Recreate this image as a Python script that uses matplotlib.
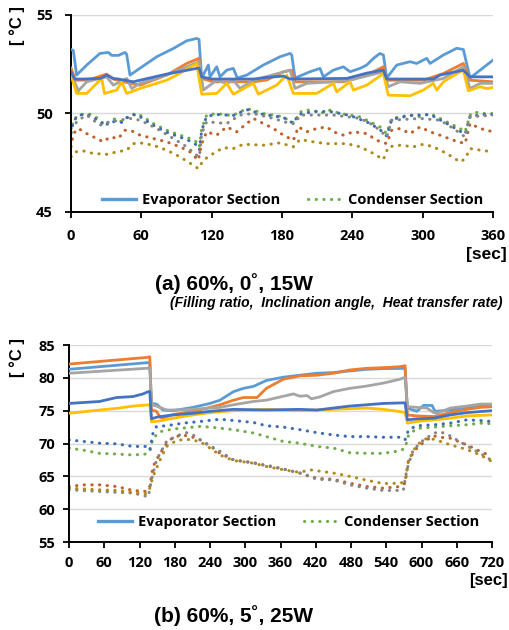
import matplotlib
matplotlib.use("Agg")
import matplotlib.pyplot as plt
from matplotlib.lines import Line2D

W, H = 509, 630
DPI = 100

# ---------------- Data: panel (a) 60%, 0 deg, 15W ----------------
a_evap1_t = [0, 2, 4.8, 13.4, 24.7, 31.9, 34.7, 40.4, 46.1, 47.5, 50.3, 58.9, 73.1, 87.3, 98.7, 107.2, 109.2, 111.5, 117.2, 118.6, 124.3, 127.1, 132.8, 138.5, 141.9, 149.9, 164.1, 178.3, 186.9, 188.3, 191.1, 203.9, 212.4, 215.3, 223.8, 232.4, 238, 246.6, 252.3, 258, 263.6, 266.5, 269.3, 277.9, 289.2, 294.9, 303.5, 306.3, 317.7, 329, 334.7, 340.4, 349, 360]
a_evap1_v = [53.25, 53.2, 51.95, 52.46, 53.05, 53.1, 52.95, 52.95, 53.1, 53.0, 51.95, 52.3, 52.88, 53.3, 53.69, 53.81, 53.76, 51.8, 52.46, 51.86, 52.37, 51.86, 52.2, 52.29, 51.8, 51.95, 52.46, 52.88, 53.05, 52.97, 51.8, 52.12, 52.29, 51.86, 52.2, 52.37, 52.12, 52.29, 52.46, 52.8, 53.05, 52.97, 51.8, 52.46, 52.63, 52.54, 52.8, 52.54, 52.97, 53.31, 53.25, 51.8, 52.2, 52.71]

a_evap2_t = [0, 4, 15, 30.4, 36, 44.7, 58.9, 81.6, 98.7, 109.2, 111.5, 121.4, 155.6, 166.9, 181.2, 188.3, 191.1, 232.4, 252.3, 266.5, 269.3, 300.6, 317.7, 334.7, 340.4, 360]
a_evap2_v = [52.3, 51.69, 51.7, 52.0, 51.75, 51.61, 51.44, 51.95, 52.54, 52.8, 51.78, 51.61, 51.61, 51.7, 52.12, 52.2, 51.61, 51.61, 51.95, 52.37, 51.69, 51.69, 52.03, 52.54, 51.69, 51.61]

a_evap3_t = [0, 6.3, 13.4, 30.4, 36.1, 47.5, 51.8, 58.9, 81.6, 98.7, 109.2, 112.9, 124.3, 132.8, 138.5, 144.2, 155.6, 186.9, 191.1, 201.1, 223.8, 238, 266.5, 270.7, 280.7, 297.8, 317.7, 334.7, 340.4, 349, 360]
a_evap3_v = [52.03, 51.15, 51.61, 51.86, 51.44, 51.78, 51.27, 51.53, 51.95, 52.37, 52.63, 51.19, 51.69, 51.53, 51.69, 51.27, 51.69, 52.2, 51.27, 51.53, 51.61, 51.69, 52.12, 51.36, 51.61, 51.53, 51.78, 52.37, 51.27, 51.53, 51.53]

a_evap4_t = [0, 4.8, 13.4, 26.2, 28.5, 39, 43.2, 47.5, 58.9, 73.1, 81.6, 90.2, 107.2, 111.5, 124.3, 132.8, 138.5, 155.6, 159.8, 175.5, 184, 189.7, 209.6, 223.8, 226.7, 238, 240.9, 252.3, 266.5, 270.7, 289.2, 300.6, 309.1, 312, 317.7, 331.9, 334.7, 339, 349, 354.6, 360]
a_evap4_v = [51.95, 51.02, 51.02, 51.78, 51.02, 51.19, 51.61, 51.02, 51.27, 51.53, 51.69, 51.95, 52.54, 50.98, 51.02, 51.53, 50.98, 51.53, 50.98, 51.44, 51.95, 51.02, 51.02, 51.53, 51.1, 51.61, 51.19, 51.44, 52.03, 50.93, 50.9, 51.19, 51.53, 51.19, 51.61, 52.12, 52.2, 51.15, 51.36, 51.27, 51.32]

a_evap5_t = [0, 3, 10, 25, 30.4, 36, 40.4, 53.2, 58.9, 81.6, 107.2, 109.5, 111.5, 120, 155.6, 166.9, 181.2, 186.9, 235.2, 252.3, 266.5, 269.3, 309.1, 314.8, 334.7, 340.4, 360]
a_evap5_v = [52.1, 51.75, 51.75, 51.78, 51.95, 51.78, 51.75, 51.61, 51.69, 52.0, 52.29, 52.29, 51.86, 51.75, 51.75, 51.83, 51.9, 51.75, 51.78, 52.05, 52.2, 51.75, 51.75, 51.95, 52.2, 51.86, 51.86]

a_cond1_t = [0, 2, 6.3, 13.4, 19, 24.7, 29, 33.3, 39, 43.2, 50.3, 56, 61.7, 70.2, 81.6, 93, 101.5, 107.2, 109.5, 111.5, 115.7, 124.3, 132.8, 138.5, 144.2, 149.9, 155.6, 164.1, 172.6, 181.2, 186.9, 191.1, 194, 198.2, 206.8, 212.4, 221, 229.5, 238, 246.6, 255.1, 263.6, 266.5, 269.3, 273.6, 280.7, 289.2, 297.8, 306.3, 314.8, 323.4, 331.9, 336.2, 340.4, 343.3, 351.8, 360]
a_cond1_v = [49.07, 49.66, 49.92, 50.0, 49.92, 49.66, 49.41, 49.66, 49.75, 49.58, 49.92, 50.0, 49.83, 49.49, 49.15, 48.9, 48.73, 48.56, 48.31, 49.24, 49.92, 50.0, 49.92, 49.92, 50.08, 50.25, 50.17, 50.0, 49.92, 49.83, 49.58, 49.53, 50.0, 50.17, 50.17, 50.0, 50.17, 50.0, 49.92, 49.83, 49.58, 49.32, 49.15, 48.98, 49.75, 49.83, 49.92, 49.83, 50.0, 49.75, 49.49, 49.24, 49.07, 49.92, 50.08, 50.0, 50.0]

a_cond2_t = [0, 2, 6.3, 13.4, 24.7, 29, 33.3, 43.2, 50.3, 56, 70.2, 81.6, 93, 101.5, 107.2, 109.5, 111.5, 115.7, 124.3, 138.5, 149.9, 164.1, 181.2, 189.7, 194, 206.8, 221, 238, 255.1, 266.5, 269.3, 273.6, 289.2, 306.3, 323.4, 336.2, 340.4, 351.8, 360]
a_cond2_v = [49.0, 49.6, 49.92, 49.95, 49.6, 49.35, 49.6, 49.55, 49.9, 49.95, 49.4, 49.05, 48.8, 48.6, 48.4, 48.15, 49.15, 49.85, 49.95, 49.9, 50.2, 49.95, 49.8, 49.5, 49.95, 50.1, 50.1, 49.9, 49.5, 49.05, 48.85, 49.7, 49.9, 49.95, 49.4, 48.95, 49.85, 49.95, 49.95]

a_cond3_t = [0, 2, 6.3, 13.4, 21.9, 27.6, 33.3, 40.4, 46.1, 51.8, 58.9, 70.2, 81.6, 93, 101.5, 108.6, 111.5, 115.7, 124.3, 132.8, 141.3, 149.9, 155.6, 164.1, 172.6, 181.2, 189.7, 194, 201.1, 209.6, 218.1, 223.8, 232.4, 240.9, 252.3, 260.8, 269.3, 273.6, 280.7, 289.2, 297.8, 306.3, 314.8, 326.2, 336.2, 340.4, 349, 360]
a_cond3_v = [48.31, 48.98, 49.24, 48.98, 48.73, 48.56, 48.81, 48.73, 49.15, 49.12, 48.9, 48.73, 48.56, 48.31, 48.05, 47.63, 48.47, 49.07, 48.9, 49.32, 49.07, 49.49, 49.75, 49.49, 49.24, 48.9, 48.64, 49.32, 49.07, 49.24, 49.32, 49.07, 48.9, 49.07, 48.98, 48.64, 48.47, 49.15, 49.24, 48.98, 49.32, 49.07, 48.9, 48.64, 48.47, 49.49, 49.24, 49.07]

a_cond4_t = [0, 6.3, 13.4, 24.7, 33.3, 50.3, 58.9, 73.1, 87.3, 98.7, 107.2, 109.5, 111.5, 115.7, 132.8, 144.2, 155.6, 172.6, 186.9, 191.1, 195.4, 223.8, 246.6, 258, 266.5, 269.3, 273.6, 297.8, 314.8, 326.2, 336.2, 340.4, 360]
a_cond4_v = [49.24, 49.66, 49.92, 49.41, 49.58, 49.75, 49.66, 49.24, 48.73, 48.31, 47.88, 47.8, 48.98, 49.58, 49.49, 49.92, 50.0, 49.75, 49.49, 49.49, 49.92, 49.92, 49.75, 49.41, 48.98, 48.81, 49.66, 49.75, 49.66, 49.24, 48.81, 49.83, 49.92]

a_cond5_t = [0, 3.4, 10.5, 19, 30.4, 39, 47.5, 53.2, 58.9, 70.2, 81.6, 93, 104.4, 108.6, 112.9, 121.4, 130, 138.5, 147, 164.1, 178.3, 189.7, 195.4, 206.8, 218.1, 235.2, 246.6, 258, 266.5, 270.7, 280.7, 292.1, 300.6, 309.1, 320.5, 331.9, 336.2, 340.4, 349, 360]
a_cond5_v = [47.8, 48.05, 48.1, 47.97, 47.93, 48.05, 48.14, 48.47, 48.51, 48.39, 48.14, 47.8, 47.37, 47.2, 47.63, 47.97, 48.27, 48.22, 48.44, 48.39, 48.51, 48.31, 48.68, 48.56, 48.47, 48.47, 48.31, 47.97, 47.66, 48.31, 48.39, 48.31, 48.44, 48.31, 47.97, 47.54, 47.7, 48.22, 48.14, 48.05]

# ---------------- Data: panel (b) 60%, 5 deg, 25W ----------------
b_evap1_t = [0, 132, 137.5, 140.4, 149, 155, 160, 177, 211, 240, 257, 280, 297, 314, 336, 365, 393, 422, 450, 478, 507, 535, 572, 576, 592, 603.5, 618, 623, 649, 677, 720]
b_evap1_v = [81.3, 82.3, 82.3, 76.1, 76.0, 75.5, 75.1, 75.0, 75.5, 76.1, 76.6, 77.9, 78.4, 78.7, 79.6, 80.1, 80.4, 80.7, 80.8, 81.05, 81.3, 81.4, 81.45, 75.4, 74.9, 75.8, 75.8, 74.9, 75.1, 75.5, 75.9]

b_evap2_t = [0, 132, 137.5, 140.4, 149, 155, 160, 177, 211, 240, 257, 280, 297, 320, 336, 365, 393, 422, 450, 478, 507, 535, 564, 572, 576, 592, 621, 649, 677, 700, 720]
b_evap2_v = [82.1, 83.1, 83.2, 75.1, 74.9, 74.0, 73.9, 74.4, 74.9, 75.5, 75.9, 76.6, 77.0, 77.0, 78.4, 79.8, 80.3, 80.4, 80.7, 81.2, 81.45, 81.55, 81.7, 81.85, 74.35, 74.2, 74.1, 74.7, 75.2, 75.5, 75.6]

b_evap3_t = [0, 132, 137.5, 140.4, 149, 166, 177, 211, 240, 257, 280, 314, 336, 365, 382, 393, 405, 413, 427, 450, 478, 507, 535, 564, 572, 576, 592, 609, 621, 626, 649, 677, 700, 720]
b_evap3_v = [80.7, 81.45, 81.45, 75.9, 75.7, 75.1, 75.1, 75.2, 75.4, 75.5, 75.9, 76.4, 76.6, 77.2, 77.55, 77.2, 77.3, 76.8, 77.1, 77.9, 78.4, 78.75, 79.2, 79.8, 80.1, 75.6, 75.5, 75.4, 74.7, 74.6, 75.4, 75.7, 76.0, 76.0]

b_evap4_t = [0, 52, 81, 109, 137.5, 140.4, 155, 177, 211, 240, 280, 336, 393, 450, 507, 535, 564, 572, 576, 592, 621, 649, 677, 720]
b_evap4_v = [74.6, 75.1, 75.35, 75.7, 75.9, 73.3, 73.45, 73.85, 74.35, 74.7, 75.0, 75.2, 75.0, 75.2, 75.4, 75.2, 74.85, 74.7, 73.1, 73.35, 73.6, 73.85, 74.2, 74.35]

b_evap5_t = [0, 52, 81, 109, 126, 135, 137.5, 140.4, 149, 155, 177, 211, 240, 280, 336, 393, 422, 450, 478, 507, 535, 572, 576, 592, 621, 649, 677, 720]
b_evap5_v = [76.1, 76.4, 77.0, 77.15, 77.55, 77.9, 77.9, 73.75, 74.0, 74.1, 74.35, 74.6, 74.9, 75.2, 75.1, 75.2, 75.1, 75.4, 75.7, 75.9, 76.1, 76.2, 73.6, 73.75, 73.85, 74.35, 74.7, 75.0]

b_cond1_t = [0, 24, 52, 81, 109, 132, 137.5, 143, 155, 177, 223, 240, 280, 314, 336, 365, 393, 422, 450, 478, 507, 535, 564, 572, 578, 592, 621, 649, 677, 700, 720]
b_cond1_v = [69.3, 69.0, 68.5, 68.4, 68.25, 68.4, 68.8, 70.8, 71.8, 72.2, 72.6, 72.5, 72.1, 71.6, 71.05, 70.3, 70.05, 69.55, 69.3, 68.6, 68.5, 68.5, 68.9, 69.3, 71.3, 72.3, 72.5, 72.7, 72.85, 73.1, 73.0]

b_cond2_t = [0, 52, 81, 109, 132, 137.5, 143, 149, 166, 194, 223, 257, 280, 314, 336, 365, 393, 422, 450, 478, 507, 535, 564, 572, 578, 592, 621, 649, 677, 700, 720]
b_cond2_v = [70.55, 70.05, 69.95, 69.55, 69.55, 69.0, 71.6, 72.6, 72.7, 73.1, 73.35, 73.7, 73.5, 73.2, 72.7, 72.5, 72.1, 71.65, 71.3, 71.05, 71.05, 70.95, 70.95, 70.55, 72.1, 72.7, 72.85, 73.1, 73.6, 73.5, 73.35]

b_cond3_t = [0, 24, 52, 81, 109, 132, 137.5, 143, 155, 166, 177, 194, 211, 223, 240, 257, 280, 314, 336, 365, 393, 422, 450, 478, 507, 535, 564, 572, 578, 592, 609, 621, 632, 649, 677, 700, 720]
b_cond3_v = [63.45, 63.7, 63.7, 63.45, 62.85, 62.7, 63.45, 66.5, 68.5, 70.0, 70.95, 71.3, 70.95, 70.55, 69.65, 68.5, 67.5, 67.1, 66.6, 66.1, 65.5, 64.7, 64.55, 63.95, 63.45, 63.2, 63.45, 63.95, 67.5, 69.3, 70.55, 71.15, 70.95, 70.8, 69.8, 68.8, 68.0]

b_cond4_t = [0, 52, 109, 135, 140.4, 149, 166, 183, 200, 211, 234, 257, 280, 314, 348, 393, 422, 450, 478, 507, 535, 569, 575, 586, 603.5, 621, 632, 649, 677, 700, 720]
b_cond4_v = [62.95, 62.7, 62.45, 61.9, 64.5, 67.5, 70.3, 71.15, 71.65, 71.3, 69.95, 68.8, 67.5, 67.0, 66.5, 65.5, 64.55, 64.45, 63.7, 63.2, 62.85, 62.85, 66.0, 69.05, 70.55, 71.57, 71.8, 71.15, 69.65, 68.5, 67.4]

b_cond5_t = [0, 52, 81, 109, 132, 137.5, 143, 155, 166, 183, 200, 223, 240, 257, 280, 314, 336, 365, 393, 410, 450, 478, 507, 535, 564, 572, 578, 592, 609, 621, 649, 677, 700, 720]
b_cond5_v = [63.2, 62.95, 62.85, 62.55, 62.35, 63.2, 65.0, 67.5, 69.55, 70.45, 70.65, 70.3, 69.3, 68.25, 67.4, 67.0, 66.5, 66.0, 65.6, 66.0, 65.5, 65.0, 64.4, 63.9, 63.95, 64.2, 67.5, 69.8, 70.8, 70.65, 69.8, 69.1, 68.25, 67.25]

a_xticks = [0, 60, 120, 180, 240, 300, 360]
a_yticks = [45, 50, 55]
b_xticks = [0, 60, 120, 180, 240, 300, 360, 420, 480, 540, 600, 660, 720]
b_yticks = [55, 60, 65, 70, 75, 80, 85]

legend_labels = ["Evaporator Section", "Condenser Section"]
title_a = "(a) 60%, 0˚, 15W"
subtitle_a = "(Filling ratio,  Inclination angle,  Heat transfer rate)"
title_b = "(b) 60%, 5˚, 25W"
ylabel = "[ °C ]"
xunit = "[sec]"

# ---------------- Styling ----------------
solid_colors = ['#5B9BD5', '#ED7D31', '#A5A5A5', '#FFC000', '#4472C4']
dot_colors = ['#70AD47', '#3A6DB5', '#C0602A', '#858585', '#B08A1A']
TICKFONT = ['Open Sans', 'DejaVu Sans']
ARIAL = ['Liberation Sans', 'DejaVu Sans']
DOT = (0, (0.1, 2.4))

fig = plt.figure(figsize=(W / DPI, H / DPI), dpi=DPI)


def px_axes(left, top, right, bottom):
    return fig.add_axes([left / W, 1 - bottom / H, (right - left) / W, (bottom - top) / H])


def style_axes(ax, xlim, ylim, xticks, yticks, ypad, xpad):
    ax.set_xlim(*xlim)
    ax.set_ylim(*ylim)
    ax.set_xticks(xticks)
    ax.set_yticks(yticks)
    for s in ['top', 'right']:
        ax.spines[s].set_visible(False)
    for s in ['left', 'bottom']:
        ax.spines[s].set_linewidth(1.4)
        ax.spines[s].set_color('black')
    ax.yaxis.grid(True, color='#D9D9D9', lw=1.0)
    ax.set_axisbelow(True)
    ax.tick_params(axis='both', direction='out', length=4, width=1.3, colors='black')
    ax.tick_params(axis='y', pad=ypad)
    ax.tick_params(axis='x', pad=xpad)
    for lab in ax.get_xticklabels() + ax.get_yticklabels():
        lab.set_family(TICKFONT)
        lab.set_fontweight('bold')
        lab.set_fontsize(10.5)


def draw(ax, evap, cond):
    for (t, v), c in zip(cond, dot_colors):
        ax.plot(t, v, color=c, lw=2.2, ls=DOT, dash_capstyle='round', zorder=2)
    for (t, v), c in zip(evap, solid_colors):
        ax.plot(t, v, color=c, lw=2.0, solid_joinstyle='round', zorder=3)


def legend(ax, anchor):
    handles = [Line2D([], [], color=solid_colors[0], lw=2.4),
               Line2D([], [], color=dot_colors[0], lw=2.2, ls=DOT, dash_capstyle='round')]
    ax.legend(handles, legend_labels, loc='center', bbox_to_anchor=anchor, ncol=2,
              frameon=False, handlelength=2.3, handletextpad=0.45, columnspacing=1.9,
              prop={'family': TICKFONT, 'weight': 'bold', 'size': 10.5})


# Panel (a)
ax1 = px_axes(71, 15, 493, 212)
draw(ax1,
     [(a_evap1_t, a_evap1_v), (a_evap2_t, a_evap2_v), (a_evap3_t, a_evap3_v), (a_evap4_t, a_evap4_v), (a_evap5_t, a_evap5_v)],
     [(a_cond1_t, a_cond1_v), (a_cond2_t, a_cond2_v), (a_cond3_t, a_cond3_v), (a_cond4_t, a_cond4_v), (a_cond5_t, a_cond5_v)])
style_axes(ax1, (0, 360), (45, 55), a_xticks, a_yticks, ypad=9, xpad=8)
legend(ax1, (0.526, 0.062))

# Panel (b)
ax2 = px_axes(69, 345, 492, 542)
draw(ax2,
     [(b_evap1_t, b_evap1_v), (b_evap2_t, b_evap2_v), (b_evap3_t, b_evap3_v), (b_evap4_t, b_evap4_v), (b_evap5_t, b_evap5_v)],
     [(b_cond1_t, b_cond1_v), (b_cond2_t, b_cond2_v), (b_cond3_t, b_cond3_v), (b_cond4_t, b_cond4_v), (b_cond5_t, b_cond5_v)])
style_axes(ax2, (0, 720), (55, 85), b_xticks, b_yticks, ypad=6, xpad=6)
legend(ax2, (0.52, 0.10))


def ftext(x, y, s, **kw):
    fig.text(x / W, 1 - y / H, s, **kw)


ftext(17, 26, ylabel, rotation=90, ha='center', va='center', family=ARIAL, weight='bold', fontsize=12)
ftext(17, 358, ylabel, rotation=90, ha='center', va='center', family=ARIAL, weight='bold', fontsize=12)
ftext(507, 254, xunit, ha='right', va='center', family=ARIAL, weight='bold', fontsize=12.5)
ftext(508, 581, xunit, ha='right', va='center', family=ARIAL, weight='bold', fontsize=12)
ftext(234, 284, title_a, ha='center', va='center', family=ARIAL, weight='bold', fontsize=15)
ftext(502, 303, subtitle_a, ha='right', va='center', family=ARIAL, weight='bold', style='italic', fontsize=10)
ftext(234, 616, title_b, ha='center', va='center', family=ARIAL, weight='bold', fontsize=15)

fig.savefig('out.png', dpi=DPI)
